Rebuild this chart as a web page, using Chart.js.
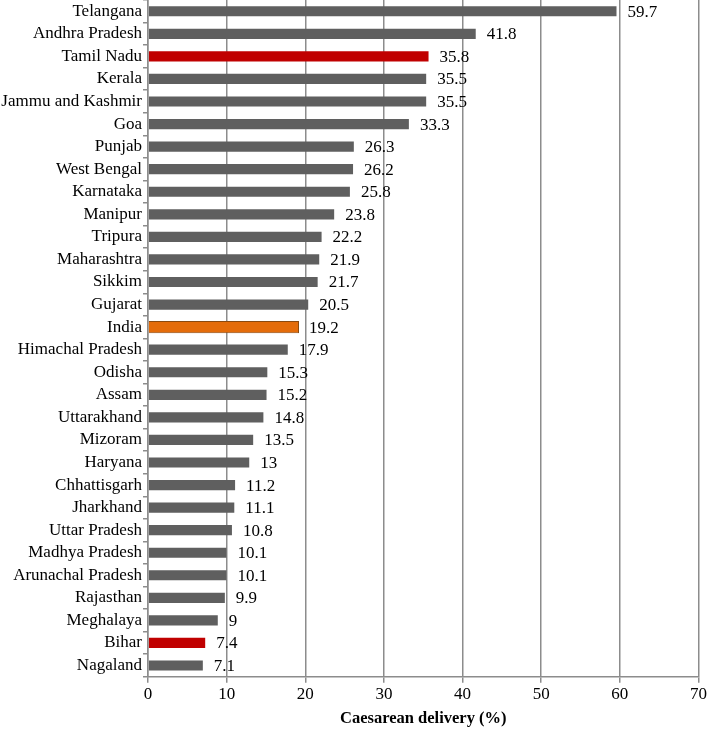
<!DOCTYPE html>
<html lang="en">
<head>
    <meta charset="UTF-8" />
    <title>Caesarean delivery by state</title>
    <script src="https://cdn.jsdelivr.net/npm/chart.js"></script>
    <style>
        html, body { margin: 0; padding: 0; background: #fff; }
        #wrap { width: 709px; height: 729px; }
    </style>
</head>
<body>
    <div id="wrap"><canvas id="csChart"></canvas></div>

    <script>
        // States, top to bottom
        const states = [
            "Telangana", "Andhra Pradesh", "Tamil Nadu", "Kerala", "Jammu and Kashmir",
            "Goa", "Punjab", "West Bengal", "Karnataka", "Manipur", "Tripura",
            "Maharashtra", "Sikkim", "Gujarat", "India", "Himachal Pradesh", "Odisha",
            "Assam", "Uttarakhand", "Mizoram", "Haryana", "Chhattisgarh", "Jharkhand",
            "Uttar Pradesh", "Madhya Pradesh", "Arunachal Pradesh", "Rajasthan",
            "Meghalaya", "Bihar", "Nagaland"
        ];
        const caesareanRates = [
            59.7, 41.8, 35.8, 35.5, 35.5, 33.3, 26.3, 26.2, 25.8, 23.8, 22.2,
            21.9, 21.7, 20.5, 19.2, 17.9, 15.3, 15.2, 14.8, 13.5, 13, 11.2, 11.1,
            10.8, 10.1, 10.1, 9.9, 9, 7.4, 7.1
        ];
        const highlightRed = ["Tamil Nadu", "Bihar"];
        const nationalLabel = "India";
        const xTicks = [0, 10, 20, 30, 40, 50, 60, 70];

        const serif = "'Liberation Serif', 'Times New Roman', serif";

        const barColors = states.map(s =>
            s === nationalLabel ? "#e46c0a" : highlightRed.includes(s) ? "#c00000" : "#5f5f5f");
        const borderColors = states.map(s => s === nationalLabel ? "#8a4a10" : "rgba(0,0,0,0)");

        // draw the value to the right of each bar
        const valueLabels = {
            id: "valueLabels",
            afterDatasetsDraw(chart) {
                const ctx = chart.ctx;
                const meta = chart.getDatasetMeta(0);
                ctx.save();
                ctx.font = "17px " + serif;
                ctx.fillStyle = "#000";
                ctx.textBaseline = "middle";
                meta.data.forEach((bar, i) => {
                    ctx.fillText(String(caesareanRates[i]), bar.x + 10, bar.y + 1);
                });
                ctx.restore();
            }
        };

        new Chart(document.getElementById("csChart"), {
            type: "bar",
            data: {
                labels: states,
                datasets: [{
                    data: caesareanRates,
                    backgroundColor: barColors,
                    borderColor: borderColors,
                    borderWidth: 1,
                    categoryPercentage: 1,
                    barPercentage: 0.54
                }]
            },
            options: {
                indexAxis: "y",
                responsive: true,
                maintainAspectRatio: false,
                animation: false,
                layout: { padding: { top: 0, right: 8, bottom: 0, left: 0 } },
                plugins: {
                    legend: { display: false },
                    tooltip: { enabled: false }
                },
                scales: {
                    x: {
                        min: 0,
                        max: 70,
                        afterBuildTicks: axis => { axis.ticks = xTicks.map(v => ({ value: v })); },
                        border: { color: "#8c8c8c", width: 1.5 },
                        grid: { color: "#8c8c8c", lineWidth: 1.5, tickLength: 6, drawTicks: true },
                        ticks: { color: "#000", font: { family: serif, size: 17 }, padding: 2 },
                        title: {
                            display: true,
                            text: "Caesarean delivery (%)",
                            color: "#000",
                            font: { family: serif, size: 16.5, weight: "bold" },
                            padding: { top: 2, bottom: 0 }
                        }
                    },
                    y: {
                        afterFit: axis => {
                            axis.width = 148;
                            axis.paddingTop = 0;
                            axis.paddingBottom = 0;
                        },
                        border: { color: "#8c8c8c", width: 1.5 },
                        grid: { drawOnChartArea: false, offset: true, tickLength: 5, color: "#8c8c8c", lineWidth: 1.5 },
                        ticks: { color: "#000", font: { family: serif, size: 17 }, padding: 1, autoSkip: false }
                    }
                }
            },
            plugins: [valueLabels]
        });
    </script>
</body>
</html>
